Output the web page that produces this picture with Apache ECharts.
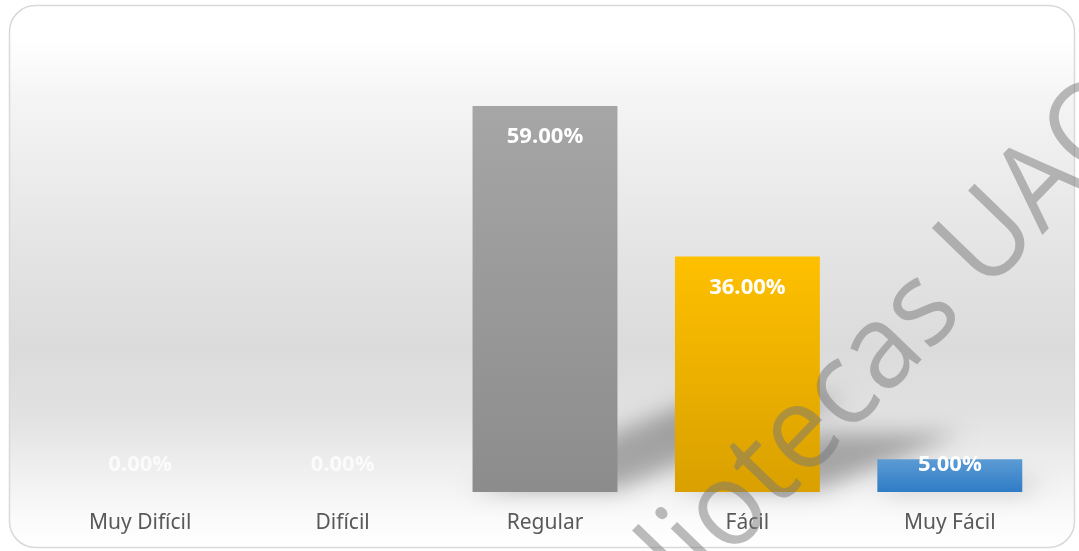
<!DOCTYPE html>
<html>
<head>
<meta charset="utf-8">
<script src="https://cdn.jsdelivr.net/npm/echarts@6/dist/echarts.min.js"></script>
<style>
  html, body { margin: 0; padding: 0; background: #ffffff; }
  #chart { width: 1079px; height: 551px; }
</style>
</head>
<body>
<div id="chart"></div>
<script>
// categorias y valores (%)
var categories = ['Muy Difícil', 'Difícil', 'Regular', 'Fácil', 'Muy Fácil'];
var values = [0, 0, 59, 36, 5];
var barColors = [
  ['#a6a6a6', '#8c8c8c'],
  ['#a6a6a6', '#8c8c8c'],
  ['#a6a6a6', '#8c8c8c'],
  ['#ffc000', '#d9a000'],
  ['#5b9bd5', '#2f7cc6']
];
var watermark = 'Bibliotecas UAQ';

var BAR_RATIO = 0.716;
var OFF = 3000;

var chart = echarts.init(document.getElementById('chart'));

function grad(c) {
  return new echarts.graphic.LinearGradient(0, 0, 0, 1, [
    { offset: 0, color: c[0] },
    { offset: 1, color: c[1] }
  ]);
}

var barData = values.map(function (v, i) {
  var small = v < 10;
  return {
    value: v,
    itemStyle: { color: grad(barColors[i]) },
    label: small ? {
      position: 'insideBottom',
      distance: 14,
      color: v === 0 ? 'rgba(255,255,255,0.75)' : '#ffffff'
    } : {
      position: 'insideTop',
      distance: 18,
      color: '#ffffff'
    }
  };
});

// sombra en perspectiva (solo se ve la sombra difuminada, la forma queda fuera)
function renderShadow(params, api) {
  var idx = api.value(0);
  var v = api.value(1);
  if (!v) return;
  var top = api.coord([idx, v]);
  var base = api.coord([idx, 0]);
  var w = api.size([1, 0])[0] * BAR_RATIO;
  var h = base[1] - top[1];
  var x0 = base[0] - w / 2 - OFF;
  var x1 = base[0] + w / 2 - OFF;
  var y = base[1] - 2;
  var dy = h * 0.24;
  var dx = h * 0.6;
  return {
    type: 'polygon',
    shape: {
      points: [[x0, y], [x1, y], [x1 + dx, y - dy], [x0 + dx, y - dy]]
    },
    style: {
      fill: '#000',
      shadowBlur: 22,
      shadowOffsetX: OFF,
      shadowColor: 'rgba(0,0,0,0.3)'
    }
  };
}

var option = {
  animation: false,
  graphic: [
    {
      type: 'rect',
      z: -10,
      shape: { x: 9.5, y: 5.5, width: 1065, height: 542, r: 26 },
      style: {
        fill: new echarts.graphic.LinearGradient(0, 0, 0, 1, [
          { offset: 0, color: '#ffffff' },
          { offset: 0.064, color: '#ffffff' },
          { offset: 0.175, color: '#f4f4f4' },
          { offset: 0.45, color: '#e4e4e4' },
          { offset: 0.635, color: '#dbdbdb' },
          { offset: 0.76, color: '#e2e2e2' },
          { offset: 0.856, color: '#efefef' },
          { offset: 0.95, color: '#fbfbfb' },
          { offset: 1, color: '#ffffff' }
        ]),
        stroke: '#d9d9d9',
        lineWidth: 1.5
      }
    },
    {
      type: 'text',
      z: 100,
      x: 838,
      y: 398,
      rotation: 46 * Math.PI / 180,
      scaleX: 0.95,
      style: {
        text: watermark,
        font: 'normal 118px "Open Sans", "Noto Sans", sans-serif',
        fill: 'rgba(120,120,120,0.5)',
        align: 'center',
        verticalAlign: 'middle'
      }
    }
  ],
  grid: { left: 39, right: 28, top: 34, bottom: 59 },
  xAxis: {
    type: 'category',
    data: categories,
    axisLine: { show: false },
    axisTick: { show: false },
    axisLabel: {
      margin: 21,
      fontSize: 21,
      fontFamily: '"Noto Sans", sans-serif',
      color: '#595959'
    }
  },
  yAxis: {
    type: 'value',
    min: 0,
    max: 70,
    show: false,
    splitLine: { show: false }
  },
  series: [
    {
      type: 'custom',
      z: 1,
      clip: false,
      renderItem: renderShadow,
      data: values.map(function (v, i) { return [i, v]; }),
      silent: true
    },
    {
      type: 'bar',
      z: 3,
      barWidth: (BAR_RATIO * 100) + '%',
      data: barData,
      label: {
        show: true,
        fontSize: 22,
        lineHeight: 26,
        fontWeight: 'bold',
        fontFamily: '"Open Sans", "Noto Sans", sans-serif',
        formatter: function (p) { return p.value.toFixed(2) + '%'; }
      }
    }
  ]
};

chart.setOption(option);
</script>
</body>
</html>
